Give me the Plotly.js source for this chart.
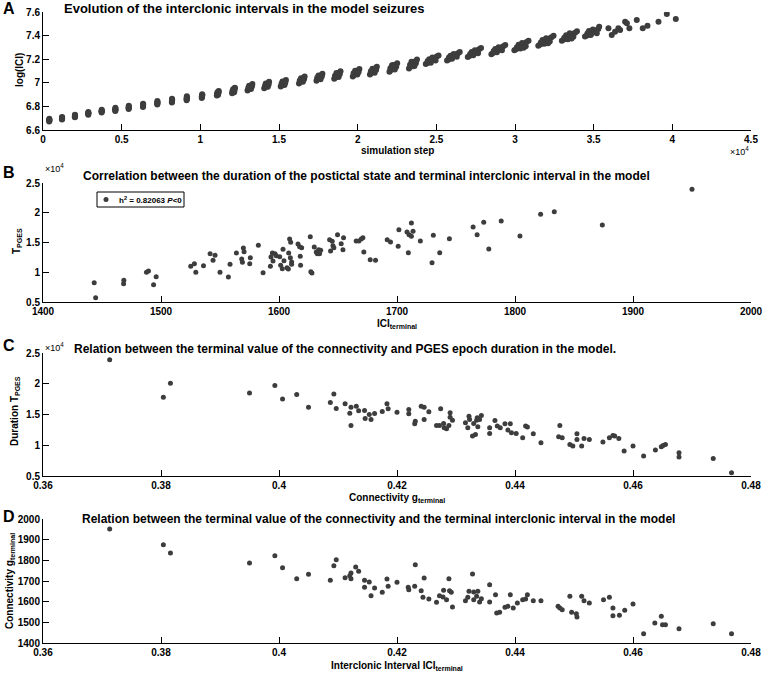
<!DOCTYPE html>
<html>
<head>
<meta charset="utf-8">
<script src="https://cdn.plot.ly/plotly-3.0.1.min.js"></script>
<style>html,body{margin:0;padding:0;background:#fff;}#chart{width:763px;height:675px;}</style>
</head>
<body>
<div id="chart"></div>
<script>
// ---------- Panel A: simulation step vs log(ICI) ----------
const aStep = [
  395,400,405,398,402,400,
  1205,1212,1208,1215,1210,1206,
  2025,2032,2028,2035,2030,2026,
  2875,2882,2878,2885,2880,2876,
  3725,3732,3728,3736,3730,3726,
  4594,4602,4598,4606,4600,4596,
  5444,5452,5448,5458,5450,5446,
  6352,6362,6356,6368,6360,6354,
  7262,7272,7266,7280,7270,7264,
  8190,8202,8196,8212,8200,8192,
  9128,9142,9136,9155,9140,9130,
  10090,10110,10100,10130,10115,10095,
  11050,11080,11100,11120,11150,11170,11090,11130,11060,11160,
  12020,12060,12100,12130,12170,12200,12080,12150,12040,12180,
  13000,13060,13120,13160,13210,13260,13310,13100,13220,13050,13280,
  14060,14120,14180,14220,14270,14320,14370,14160,14290,14110,14340,
  15110,15170,15230,15280,15330,15390,15440,15220,15350,15160,15400,
  16270,16330,16390,16450,16510,16570,16630,16400,16520,16320,16590,
  17380,17440,17510,17570,17630,17700,17760,17510,17640,17430,17720,
  18510,18580,18640,18710,18780,18840,18910,18650,18790,18560,18860,
  19690,19760,19830,19900,19970,20040,20110,19840,19980,19740,20060,
  20780,20850,20930,21000,21070,21150,21220,20940,21080,20840,21170,
  22020,22100,22180,22270,22350,22430,22510,22180,22360,22080,22450,22270,
  23260,23340,23430,23520,23600,23690,23770,23420,23610,23330,23700,23520,
  24330,24430,24530,24630,24730,24830,24930,25030,25140,24550,24750,24950,24650,24450,
  25680,25780,25880,25980,26080,26180,26280,26380,26490,25900,26100,26300,26000,25800,
  27000,27100,27210,27310,27420,27520,27620,27720,27840,27250,27450,27650,27350,27150,
  28500,28600,28710,28820,28930,29040,29150,29260,29380,28750,28960,29170,28850,28650,
  29960,30070,30180,30290,30400,30520,30630,30740,30860,30230,30450,30680,30340,30120,30550,
  31480,31600,31720,31840,31960,32080,32200,32320,32450,31750,31980,32210,31870,31640,32100,
  32980,33100,33220,33340,33460,33580,33700,33820,33940,33250,33480,33710,33360,33130,33600,
  34450,34570,34690,34810,34930,35050,35170,35290,34700,34950,35200,34820,35350,34600,
  35940,36150,36360,36570,36680,37000,37110,37270,37740,38120,38420,39120,39650,40220
];
const aLogICI = [
  6.673,6.679,6.685,6.690,6.696,6.682,
  6.688,6.694,6.700,6.705,6.710,6.697,
  6.707,6.713,6.719,6.724,6.730,6.716,
  6.729,6.735,6.741,6.747,6.753,6.739,
  6.748,6.754,6.760,6.766,6.772,6.758,
  6.761,6.768,6.775,6.781,6.788,6.772,
  6.778,6.785,6.792,6.799,6.806,6.789,
  6.794,6.801,6.809,6.816,6.823,6.806,
  6.816,6.823,6.831,6.838,6.846,6.828,
  6.832,6.840,6.848,6.856,6.864,6.845,
  6.852,6.860,6.869,6.877,6.885,6.866,
  6.872,6.880,6.888,6.896,6.903,6.885,
  6.893,6.900,6.910,6.918,6.926,6.930,6.920,6.898,6.905,6.915,
  6.912,6.922,6.932,6.943,6.953,6.958,6.945,6.920,6.930,6.940,
  6.935,6.944,6.952,6.962,6.972,6.980,6.990,6.975,6.948,6.958,6.968,
  6.954,6.963,6.972,6.981,6.990,6.999,7.008,6.994,6.966,6.976,6.986,
  6.968,6.977,6.987,6.996,7.005,7.014,7.024,7.010,6.982,6.991,7.000,
  6.995,7.005,7.014,7.024,7.034,7.043,7.053,7.038,7.008,7.019,7.030,
  7.017,7.027,7.037,7.047,7.057,7.067,7.077,7.062,7.031,7.042,7.053,
  7.035,7.045,7.056,7.066,7.076,7.087,7.097,7.082,7.050,7.060,7.072,
  7.054,7.065,7.075,7.086,7.097,7.107,7.118,7.102,7.070,7.080,7.092,
  7.070,7.081,7.092,7.103,7.114,7.125,7.136,7.120,7.086,7.097,7.109,
  7.094,7.106,7.118,7.130,7.142,7.154,7.166,7.148,7.112,7.124,7.136,7.150,
  7.122,7.135,7.147,7.160,7.172,7.185,7.197,7.178,7.142,7.153,7.166,7.140,
  7.160,7.168,7.178,7.186,7.195,7.204,7.212,7.222,7.232,7.200,7.215,7.190,7.170,7.185,
  7.190,7.198,7.207,7.216,7.225,7.234,7.242,7.251,7.262,7.230,7.245,7.220,7.203,7.214,
  7.218,7.227,7.236,7.246,7.255,7.265,7.274,7.284,7.294,7.260,7.276,7.250,7.233,7.245,
  7.243,7.252,7.261,7.271,7.280,7.290,7.299,7.309,7.320,7.287,7.302,7.276,7.258,7.270,
  7.275,7.285,7.295,7.305,7.315,7.325,7.335,7.345,7.356,7.322,7.338,7.310,7.290,7.302,7.298,
  7.314,7.324,7.334,7.344,7.354,7.364,7.375,7.386,7.398,7.362,7.378,7.350,7.330,7.342,7.336,
  7.356,7.366,7.376,7.386,7.395,7.405,7.415,7.425,7.437,7.403,7.420,7.390,7.370,7.382,7.376,
  7.392,7.400,7.410,7.418,7.426,7.436,7.445,7.456,7.440,7.452,7.420,7.405,7.474,7.418,
  7.462,7.405,7.433,7.462,7.447,7.518,7.504,7.462,7.532,7.462,7.484,7.518,7.583,7.541
];

// ---------- Panel B: ICI terminal vs T_PGES ----------
const bICI = [1443.4,1444.6,1468.5,1468.3,1487.7,1489.4,1495.9,1493.7,1525.2,1528.3,1529.5,1536,1541.6,1544.1,1545.8,1550,1557.1,1558.5,1563.9,1568.4,1569,1569.8,1570.4,1575.2,1575.7,1582.5,1586.5,1592.7,1593.2,1594.4,1594.9,1596.6,1597.7,1600.6,1601.4,1602.8,1603.4,1604.2,1606.8,1607.9,1608.2,1609,1609.9,1609.6,1610.7,1610.7,1616.1,1617.5,1618,1618.3,1619.2,1626.5,1627,1627.9,1629.9,1631.6,1632.4,1633.6,1635.3,1634.4,1642.9,1643.7,1645.1,1645.7,1646.5,1649.6,1652.7,1654.2,1654.7,1665.4,1667.7,1669.7,1671.1,1671.9,1677.3,1681.8,1691.7,1694.5,1701.6,1701,1708.5,1709.6,1710.2,1712.2,1712.2,1713.6,1719.8,1729.7,1730.8,1736.2,1744.4,1764.5,1767.9,1773.5,1777.8,1788.3,1804.2,1821.7,1833.3,1874,1950];
const bTPGES = [8250,5730,8640,8080,10000,10210,9260,7910,10990,11440,9990,11100,13120,12000,12840,9990,9200,11330,13240,12230,11670,14070,13460,11440,12450,14520,9930,10990,12560,13240,11890,13120,12790,12620,11160,10600,13850,11950,10770,10540,13240,15590,15030,12450,11720,11330,14750,14300,12670,11160,14130,15980,10100,9880,14240,13400,13120,13800,13680,13120,15480,13570,15200,14470,14130,16320,14800,13800,15810,15250,15250,15590,15810,13400,12110,12000,15480,15080,17160,14360,16760,13290,16320,18280,16040,16880,15250,11610,16200,13290,15640,17610,16320,18390,13910,18610,16090,19730,20180,17940,23940];
const bLegendText = 'h<sup>2</sup> = 0.82063 <i>P</i>&lt;0';

// ---------- Panel C: connectivity g terminal vs T_PGES ----------
const cG = [0.3713,0.3804,0.3816,0.3950,0.3993,0.4006,0.4030,0.4050,0.4087,0.4093,0.4097,0.4112,0.4120,0.4122,0.4122,0.4131,0.4135,0.4145,0.4146,0.4153,0.4156,0.4162,0.4175,0.4183,0.4185,0.4200,0.4220,0.4220,0.4230,0.4231,0.4241,0.4246,0.4246,0.4254,0.4267,0.4272,0.4274,0.4279,0.4280,0.4284,0.4288,0.4290,0.4290,0.4294,0.4316,0.4320,0.4322,0.4323,0.4328,0.4330,0.4333,0.4335,0.4336,0.4337,0.4340,0.4343,0.4357,0.4357,0.4366,0.4370,0.4375,0.4383,0.4388,0.4392,0.4394,0.4402,0.4413,0.4418,0.4421,0.4431,0.4444,0.4476,0.4474,0.4480,0.4493,0.4498,0.4505,0.4505,0.4513,0.4517,0.4526,0.4549,0.4560,0.4566,0.4569,0.4576,0.4585,0.4600,0.4618,0.4638,0.4648,0.4651,0.4655,0.4678,0.4678,0.4736,0.4767];
const cTPGES = [23920,17810,20080,18510,19700,17540,18240,16190,16950,18350,15970,16730,15220,16190,13220,16350,15590,15650,14350,15000,14190,15160,15490,16730,15920,15380,15810,15110,13490,13920,16350,14190,16190,15460,13220,13220,15920,13540,12840,12700,13220,15270,14570,14080,13650,12840,14730,14190,11490,13540,11760,14080,14460,13000,14190,14840,12840,11920,14030,13110,12840,13490,12460,13490,12030,11920,11220,13110,12950,11860,10410,13220,11380,11220,10140,9860,11860,10950,9860,11110,10950,10510,11220,11590,11490,11110,9050,9860,8240,9220,9760,9970,10140,8780,8080,7860,5540];

// ---------- Panel D: g terminal vs ICI terminal ----------
const dG = [0.3713,0.3804,0.3816,0.3950,0.3993,0.4006,0.4030,0.4050,0.4087,0.4093,0.4097,0.4112,0.4120,0.4122,0.4122,0.4130,0.4135,0.4145,0.4145,0.4153,0.4156,0.4162,0.4175,0.4183,0.4185,0.4200,0.4219,0.4220,0.4230,0.4231,0.4241,0.4246,0.4244,0.4254,0.4267,0.4272,0.4278,0.4279,0.4284,0.4288,0.4289,0.4292,0.4294,0.4316,0.4320,0.4322,0.4328,0.4330,0.4330,0.4335,0.4337,0.4340,0.4343,0.4357,0.4357,0.4367,0.4369,0.4374,0.4383,0.4388,0.4392,0.4397,0.4404,0.4413,0.4418,0.4421,0.4431,0.4444,0.4473,0.4476,0.4480,0.4493,0.4496,0.4504,0.4505,0.4513,0.4517,0.4526,0.4550,0.4560,0.4566,0.4566,0.4577,0.4586,0.4600,0.4618,0.4637,0.4648,0.4650,0.4655,0.4678,0.4736,0.4767];
const dICI = [1951.6,1875.8,1835.5,1787,1822.6,1764.5,1711.3,1732.3,1703.2,1774.2,1803.2,1716.1,1725.8,1738.7,1711.3,1767.7,1746.8,1703.2,1669.4,1695.2,1629,1666.1,1645.2,1709.7,1674.2,1693.5,1669.4,1658,1674.2,1779,1653.2,1714.5,1621,1613,1596.8,1629,1622.6,1654.8,1609.7,1711.3,1653.2,1645.2,1574.2,1604.8,1621,1650,1733.9,1646.8,1609.7,1625.8,1650,1598.4,1614.5,1682.3,1598.4,1633.9,1545.2,1548.4,1572.6,1577.4,1633.9,1569.4,1593.5,1609.7,1613,1633.9,1604.8,1604.8,1577.4,1569.4,1561.3,1625.8,1548.4,1541.9,1525.8,1625.8,1604.8,1593.5,1609.7,1621,1569.4,1532.3,1533.9,1558.1,1588.7,1445.2,1496.8,1529,1488.7,1488.7,1469.4,1493.5,1445.2];

// ---------- Ticks ----------
const aXTickVals = [0,5000,10000,15000,20000,25000,30000,35000,40000,45000];
const aXTickText = ['0','0.5','1','1.5','2','2.5','3','3.5','4','4.5'];
const aYTickVals = [6.6,6.8,7.0,7.2,7.4,7.6];
const aYTickText = ['6.6','6.8','7','7.2','7.4','7.6'];
const bXTickVals = [1400,1500,1600,1700,1800,1900,2000];
const tYTickVals = [5000,10000,15000,20000,25000];
const tYTickText = ['0.5','1','1.5','2','2.5'];
const gXTickVals = [0.36,0.38,0.40,0.42,0.44,0.46,0.48];
const gXTickText = ['0.36','0.38','0.4','0.42','0.44','0.46','0.48'];
const dYTickVals = [1400,1500,1600,1700,1800,1900,2000];

const W = 763, H = 675;
const FONT = 'Liberation Sans, Arial, Helvetica, sans-serif';
const DOT = '#3d3d3d';
const markerStyle = {color:DOT, size:5, symbol:'circle'};
const markerStyleA = {color:DOT, size:6, symbol:'circle'};
const px = v => v / W;
const py = v => 1 - v / H;

const axBase = {
  showline:true, linecolor:'#000', linewidth:1, mirror:false,
  ticks:'inside', ticklen:6, tickwidth:1, tickcolor:'#000',
  showgrid:false, zeroline:false, fixedrange:true,
  tickfont:{family:FONT, size:10, color:'#000', weight:'bold'}
};
const xDom = [px(43), px(751)];

const traces = [
  {type:'scatter', mode:'markers', x:aStep, y:aLogICI, xaxis:'x', yaxis:'y', marker:markerStyleA},
  {type:'scatter', mode:'markers', x:bICI, y:bTPGES, xaxis:'x2', yaxis:'y2', marker:markerStyle},
  {type:'scatter', mode:'markers', x:cG, y:cTPGES, xaxis:'x3', yaxis:'y3', marker:markerStyle},
  {type:'scatter', mode:'markers', x:dG, y:dICI, xaxis:'x4', yaxis:'y4', marker:markerStyle}
];

function ann(text, x, y, opts) {
  return Object.assign({text:text, x:px(x), y:py(y), xref:'paper', yref:'paper', showarrow:false,
    xanchor:'left', yanchor:'middle', font:{family:FONT, size:10, color:'#000', weight:'bold'}}, opts||{});
}
const letterFont = {family:FONT, size:16, color:'#000', weight:'bold'};
const titleFont = {family:FONT, size:12, color:'#000', weight:'bold'};
const expFont = {family:FONT, size:9, color:'#000'};

const annotations = [
  ann('A', 1, 9, {font:letterFont}),
  ann('B', 1, 172, {font:letterFont}),
  ann('C', 1, 345, {font:letterFont}),
  ann('D', 1, 516, {font:letterFont}),
  ann('Evolution of the interclonic intervals in the model seizures', 62, 9, {font:{family:FONT, size:13, color:'#000', weight:'bold'}}),
  ann('Correlation between the duration of the postictal state and terminal interclonic interval in the model', 81, 176, {font:titleFont}),
  ann('Relation between the terminal value of the connectivity and PGES epoch duration in the model.', 72, 349, {font:titleFont}),
  ann('Relation between the terminal value of the connectivity and the terminal interclonic interval in the model', 80, 519, {font:titleFont}),
  ann('simulation step', 397, 150, {xanchor:'center'}),
  ann('ICI<sub>terminal</sub>', 397, 324, {xanchor:'center'}),
  ann('Connectivity g<sub>terminal</sub>', 397, 498, {xanchor:'center'}),
  ann('Interclonic Interval ICI<sub>terminal</sub>', 397, 666, {xanchor:'center'}),
  ann('log(ICI)', 19, 70, {xanchor:'center', textangle:-90}),
  ann('T<sub>PGES</sub>', 17, 241, {xanchor:'center', textangle:-90}),
  ann('Duration T<sub>PGES</sub>', 15, 411, {xanchor:'center', textangle:-90}),
  ann('Connectivity g<sub>terminal</sub>', 10, 581, {xanchor:'center', textangle:-90}),
  ann('×10<sup>4</sup>', 751, 151, {xanchor:'right', font:expFont}),
  ann('×10<sup>4</sup>', 43, 168, {font:expFont}),
  ann('×10<sup>4</sup>', 43, 347, {font:expFont}),
  ann(bLegendText, 117, 199.5, {font:{family:FONT, size:8, color:'#000', weight:'bold'}})
];

const shapes = [
  {type:'rect', xref:'paper', yref:'paper', x0:px(97), x1:px(184), y0:py(207), y1:py(192),
   line:{color:'#000', width:1}, fillcolor:'#fff', layer:'above'},
  {type:'circle', xref:'paper', yref:'paper', x0:px(103.5), x1:px(108.5), y0:py(202), y1:py(197),
   line:{color:DOT, width:0}, fillcolor:DOT, layer:'above'}
];

const layout = {
  width:W, height:H, margin:{l:0, r:0, t:0, b:0},
  paper_bgcolor:'#fff', plot_bgcolor:'#fff', showlegend:false,
  xaxis: Object.assign({}, axBase, {domain:xDom, anchor:'y', range:[0,45000], tickvals:aXTickVals, ticktext:aXTickText}),
  yaxis: Object.assign({}, axBase, {domain:[py(130), py(12)], anchor:'x', range:[6.6,7.6], tickvals:aYTickVals, ticktext:aYTickText}),
  xaxis2: Object.assign({}, axBase, {domain:xDom, anchor:'y2', range:[1400,2000], tickvals:bXTickVals}),
  yaxis2: Object.assign({}, axBase, {domain:[py(302), py(183)], anchor:'x2', range:[5000,25000], tickvals:tYTickVals, ticktext:tYTickText}),
  xaxis3: Object.assign({}, axBase, {domain:xDom, anchor:'y3', range:[0.36,0.48], tickvals:gXTickVals, ticktext:gXTickText}),
  yaxis3: Object.assign({}, axBase, {domain:[py(476), py(353)], anchor:'x3', range:[5000,25000], tickvals:tYTickVals, ticktext:tYTickText}),
  xaxis4: Object.assign({}, axBase, {domain:xDom, anchor:'y4', range:[0.36,0.48], tickvals:gXTickVals, ticktext:gXTickText}),
  yaxis4: Object.assign({}, axBase, {domain:[py(643), py(519)], anchor:'x4', range:[1400,2000], tickvals:dYTickVals}),
  annotations:annotations,
  shapes:shapes
};

Plotly.newPlot('chart', traces, layout, {staticPlot:true, displayModeBar:false});
</script>
</body>
</html>
